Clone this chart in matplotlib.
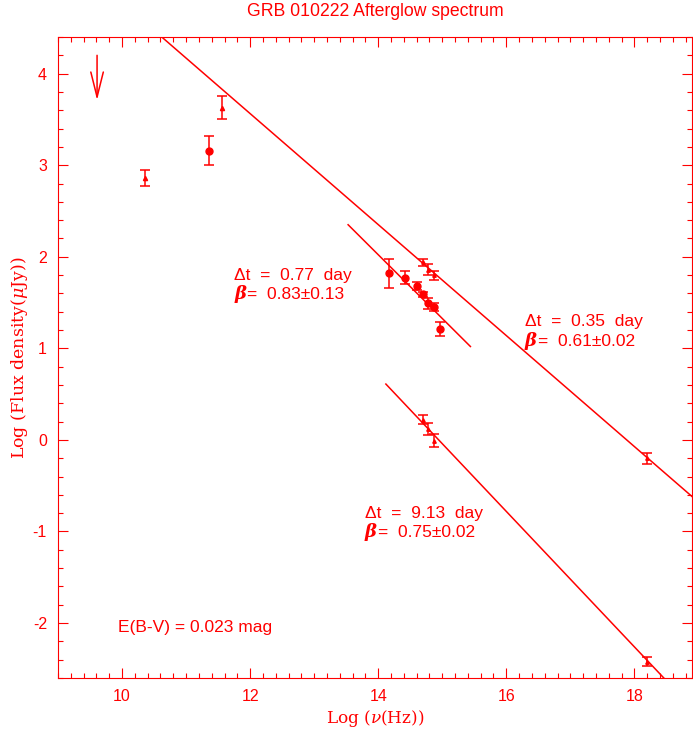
import matplotlib
matplotlib.use("Agg")
import matplotlib.pyplot as plt
from matplotlib.ticker import MultipleLocator

plt.rcParams["axes.unicode_minus"] = False
plt.rcParams["mathtext.fontset"] = "dejavuserif"
RED = "#ff0000"

# ---- data (log nu [Hz], log flux [uJy], error) ----
# 0.77 day (filled circles)
x_077 = [11.36, 14.17, 14.42, 14.61, 14.70, 14.78, 14.87, 14.96]
y_077 = [3.16, 1.82, 1.77, 1.68, 1.59, 1.49, 1.45, 1.215]
e_077 = [0.16, 0.16, 0.07, 0.04, 0.03, 0.055, 0.04, 0.076]

# 0.35 day (small triangles)
x_035 = [14.70, 14.78, 14.87, 18.19]
y_035 = [1.94, 1.86, 1.80, -0.20]
e_035 = [0.04, 0.06, 0.05, 0.06]

# 9.13 day (small triangles)
x_913 = [14.70, 14.78, 14.87, 18.19]
y_913 = [0.22, 0.12, -0.01, -2.42]
e_913 = [0.05, 0.07, 0.07, 0.045]

# radio points (triangles)
x_radio = [10.36, 11.56]
y_radio = [2.86, 3.63]
e_radio = [0.09, 0.125]

# upper limit
x_ul = [9.61]
y_ul_top = [4.20]
y_ul = [3.71]

# fitted power laws (end points)
fit_035_x = [10.62, 18.92]
fit_035_y = [4.40, -0.63]
fit_077_x = [13.53, 15.44]
fit_077_y = [2.35, 1.02]
fit_913_x = [14.12, 18.46]
fit_913_y = [0.61, -2.60]

labels = [
    (11.75, 1.80, "\u0394t  =  0.77  day", "0.83\u00b10.13"),
    (16.29, 1.29, "\u0394t  =  0.35  day", "0.61\u00b10.02"),
    (13.79, -0.80, "\u0394t  =  9.13  day", "0.75\u00b10.02"),
]

fig = plt.figure(figsize=(6.93, 7.29), dpi=100)
ax = fig.add_axes([58 / 693, 1 - 678 / 729, (692 - 58) / 693, (678 - 37) / 729])

ax.set_xlim(9.0, 18.9)
ax.set_ylim(-2.6, 4.4)

for sp in ax.spines.values():
    sp.set_color(RED)
    sp.set_linewidth(0.8)

ax.xaxis.set_major_locator(MultipleLocator(2))
ax.xaxis.set_minor_locator(MultipleLocator(0.2))
ax.yaxis.set_major_locator(MultipleLocator(1))
ax.yaxis.set_minor_locator(MultipleLocator(0.2))
ax.tick_params(which="both", direction="in", top=True, right=True, colors=RED,
               labelcolor=RED, width=0.8)
ax.tick_params(which="major", length=7.5, labelsize=11.5, pad=8)
ax.tick_params(which="minor", length=3.8)
for lab in ax.get_xticklabels() + ax.get_yticklabels():
    lab.set_family("Liberation Sans")

# fit lines
for fx, fy in [(fit_035_x, fit_035_y), (fit_077_x, fit_077_y), (fit_913_x, fit_913_y)]:
    ax.plot(fx, fy, color=RED, lw=1.1, clip_on=True)

ekw = dict(ecolor=RED, elinewidth=1.1, capsize=3.5, capthick=1.1, linestyle="none")
ax.errorbar(x_077, y_077, yerr=e_077, fmt="o", color=RED, ms=5, **ekw)
ax.errorbar(x_035, y_035, yerr=e_035, fmt="^", color=RED, ms=2.5, **ekw)
ax.errorbar(x_913, y_913, yerr=e_913, fmt="^", color=RED, ms=2.5, **ekw)
ax.errorbar(x_radio, y_radio, yerr=e_radio, fmt="^", color=RED, ms=3, **ekw)

# upper limit arrow
for xu, yt, yb in zip(x_ul, y_ul_top, y_ul):
    ax.annotate("", xy=(xu, yb), xytext=(xu, yt),
                arrowprops=dict(arrowstyle="->,head_length=3.0,head_width=0.75",
                                mutation_scale=6, color=RED, lw=1.1,
                                shrinkA=0, shrinkB=0))

# labels
for lx, ly, t1, bval in labels:
    ax.text(lx, ly, t1, color=RED, fontsize=12.5, family="Liberation Sans",
            va="center", ha="left")
    ax.text(lx, ly - 0.21, "\u03b2", color=RED, fontsize=13, family="DejaVu Serif",
            style="italic", weight="bold", va="center", ha="left")
    ax.text(lx + 0.2, ly - 0.21, "=  " + bval, color=RED, fontsize=12.5,
            family="Liberation Sans", va="center", ha="left")

ax.text(9.93, -2.05, "E(B-V) = 0.023 mag", color=RED, fontsize=12.5,
        family="Liberation Sans", va="center", ha="left")

ax.set_title("GRB 010222 Afterglow spectrum", color=RED, fontsize=12.7,
             family="Liberation Sans", pad=15)
ax.set_xlabel(r"Log ($\nu$(Hz))", color=RED, fontsize=12.2, family="DejaVu Serif",
              labelpad=3)
ax.set_ylabel(r"Log (Flux density($\mu$Jy))", color=RED, fontsize=12.5,
              family="DejaVu Serif", labelpad=2)

fig.savefig("out.png", dpi=100, facecolor="white")
